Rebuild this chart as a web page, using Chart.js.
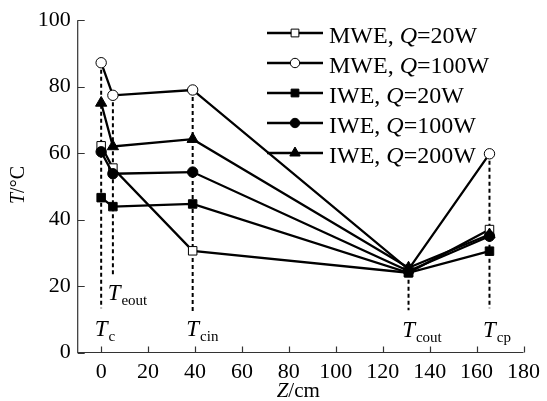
<!DOCTYPE html>
<html>
<head>
<meta charset="utf-8">
<script src="https://cdn.jsdelivr.net/npm/chart.js@4"></script>
<style>
  body { margin: 0; background: #fff; }
  #wrap { width: 547px; height: 401px; }
</style>
</head>
<body>
<div id="wrap"><canvas id="chart" width="547" height="401"></canvas></div>
<script>
// positions along the loop (cm)
const positions = [0, 5, 39, 131, 165.5];

const mwe20 = [62.2, 55.5, 30.6, 24.0, 37.0];
const mwe100 = [87.2, 77.4, 79.0, 25.0, 59.8];
const iwe20 = [46.6, 43.9, 44.7, 24.0, 30.5];
const iwe100 = [60.4, 53.8, 54.3, 24.5, 35.0];
const iwe200 = [75.1, 62.0, 64.2, 25.5, 35.5];

const seriesNames = ['MWE', 'MWE', 'IWE', 'IWE', 'IWE'];
const seriesPower = ['20W', '100W', '20W', '100W', '200W'];

const xTicks = [0, 20, 40, 60, 80, 100, 120, 140, 160, 180];
const yTicks = [0, 20, 40, 60, 80, 100];

// dashed guide lines and the point labels under them
const guideTop = [87.2, 77.4, 79.0, 24.0, 59.8];
const guideBottom = [13.3, 23.0, 12.0, 12.7, 13.3];
const pointMain = ['T', 'T', 'T', 'T', 'T'];
const pointSub = ['c', 'eout', 'cin', 'cout', 'cp'];
const labelX = [0, 5.5, 39, 131, 165.5];
const labelY = [5.1, 15.7, 5.1, 4.6, 4.6];

const serif = '"Liberation Serif", "Times New Roman", serif';

function toPoints(vals) {
  return vals.map((v, i) => ({ x: positions[i], y: v }));
}

function makeSet(vals, style, filled, radius) {
  return {
    data: toPoints(vals),
    showLine: true,
    borderColor: '#000',
    borderWidth: 2.3,
    pointStyle: style,
    pointRadius: radius,
    pointHoverRadius: radius,
    pointBorderWidth: 1,
    pointBorderColor: '#000',
    pointBackgroundColor: filled ? '#000' : '#fff'
  };
}

const datasets = [
  makeSet(iwe20, 'rect', true, 6),
  makeSet(iwe100, 'circle', true, 5.2),
  makeSet(iwe200, 'triangle', true, 6.5),
  makeSet(mwe20, 'rect', false, 6),
  makeSet(mwe100, 'circle', false, 5.2)
];
// legend order
const legendSets = [datasets[3], datasets[4], datasets[0], datasets[1], datasets[2]];

const decorPlugin = {
  id: 'decor',
  beforeDatasetsDraw(chart) {
    const ctx = chart.ctx;
    const xs = chart.scales.x, ys = chart.scales.y;
    ctx.save();
    ctx.strokeStyle = '#000';
    ctx.lineWidth = 2;
    ctx.setLineDash([4, 3]);
    positions.forEach((p, i) => {
      const px = xs.getPixelForValue(p);
      ctx.beginPath();
      ctx.moveTo(px, ys.getPixelForValue(guideTop[i]));
      ctx.lineTo(px, ys.getPixelForValue(guideBottom[i]));
      ctx.stroke();
    });
    ctx.restore();
  },
  afterDraw(chart) {
    const ctx = chart.ctx;
    const xs = chart.scales.x, ys = chart.scales.y;
    const area = chart.chartArea;
    ctx.save();
    ctx.strokeStyle = '#333';
    ctx.lineWidth = 1.2;
    // axis lines
    ctx.beginPath();
    ctx.moveTo(area.left, area.top);
    ctx.lineTo(area.left, area.bottom);
    ctx.lineTo(area.right, area.bottom);
    ctx.stroke();
    // inward ticks
    ctx.beginPath();
    yTicks.forEach(t => {
      const py = Math.round(ys.getPixelForValue(t)) + 0.5;
      ctx.moveTo(area.left, py);
      ctx.lineTo(area.left + 7, py);
    });
    xTicks.forEach(t => {
      const px = Math.round(xs.getPixelForValue(t)) + 0.5;
      ctx.moveTo(px, area.bottom);
      ctx.lineTo(px, area.bottom - 6);
    });
    ctx.stroke();

    ctx.fillStyle = '#000';
    ctx.textBaseline = 'alphabetic';
    ctx.textAlign = 'left';
    // point labels T_sub
    pointSub.forEach((s, i) => {
      const px = xs.getPixelForValue(labelX[i]);
      const py = ys.getPixelForValue(labelY[i]);
      ctx.font = 'italic 23px ' + serif;
      const wT = ctx.measureText(pointMain[i]).width;
      const x0 = px - wT / 2;
      ctx.fillText(pointMain[i], x0, py);
      ctx.font = '15px ' + serif;
      ctx.fillText(s, x0 + wT + 1, py + 5);
    });

    // axis titles
    ctx.font = 'italic 21px ' + serif;
    const wZ = ctx.measureText('Z').width;
    ctx.font = '21px ' + serif;
    const wRest = ctx.measureText('/cm').width;
    const cx = xs.getPixelForValue(84) - (wZ + wRest) / 2;
    ctx.font = 'italic 21px ' + serif;
    ctx.fillText('Z', cx, 397);
    ctx.font = '21px ' + serif;
    ctx.fillText('/cm', cx + wZ, 397);

    ctx.translate(24, 185);
    ctx.rotate(-Math.PI / 2);
    ctx.font = 'italic 20px ' + serif;
    const wT = ctx.measureText('T').width;
    ctx.font = '20px ' + serif;
    const wC = ctx.measureText('/°C').width;
    const sx = -(wT + wC) / 2;
    ctx.font = 'italic 20px ' + serif;
    ctx.fillText('T', sx, 0);
    ctx.font = '20px ' + serif;
    ctx.fillText('/°C', sx + wT, 0);
    ctx.setTransform(1, 0, 0, 1, 0, 0);

    // legend
    legendSets.forEach((ds, i) => {
      const y = 33 + i * 30;
      ctx.strokeStyle = '#000';
      ctx.lineWidth = 2.3;
      ctx.beginPath();
      ctx.moveTo(267, y);
      ctx.lineTo(323, y);
      ctx.stroke();
      ctx.lineWidth = 1;
      ctx.fillStyle = ds.pointBackgroundColor;
      Chart.helpers.drawPoint(ctx, { pointStyle: ds.pointStyle, radius: ds.pointRadius - 0.5, borderWidth: 1 }, 295, y);
      ctx.fillStyle = '#000';
      let tx = 329;
      const by = y + 9.5;
      ctx.font = '24px ' + serif;
      const a = seriesNames[i] + ', ';
      ctx.fillText(a, tx, by);
      tx += ctx.measureText(a).width;
      ctx.font = 'italic 24px ' + serif;
      ctx.fillText('Q', tx, by);
      tx += ctx.measureText('Q').width;
      ctx.font = '24px ' + serif;
      ctx.fillText('=' + seriesPower[i], tx, by);
    });
    ctx.restore();
  }
};

new Chart(document.getElementById('chart'), {
  type: 'scatter',
  data: { datasets: datasets },
  options: {
    responsive: false,
    animation: false,
    layout: { padding: { left: 0, right: 18, top: 20, bottom: 0 } },
    plugins: { legend: { display: false }, tooltip: { enabled: false } },
    scales: {
      x: {
        type: 'linear',
        min: -10,
        max: 180,
        afterFit(s) { s.height = 48.5; },
        afterBuildTicks(s) { s.ticks = xTicks.map(v => ({ value: v })); },
        grid: { display: false, drawTicks: false },
        border: { display: false },
        ticks: { color: '#000', padding: 7, font: { family: serif, size: 22 }, maxRotation: 0 }
      },
      y: {
        type: 'linear',
        min: 0,
        max: 100,
        afterFit(s) { s.width = 77.7; },
        afterBuildTicks(s) { s.ticks = yTicks.map(v => ({ value: v })); },
        grid: { display: false, drawTicks: false },
        border: { display: false },
        ticks: { color: '#000', padding: 7, font: { family: serif, size: 22 } }
      }
    }
  },
  plugins: [decorPlugin]
});
</script>
</body>
</html>
